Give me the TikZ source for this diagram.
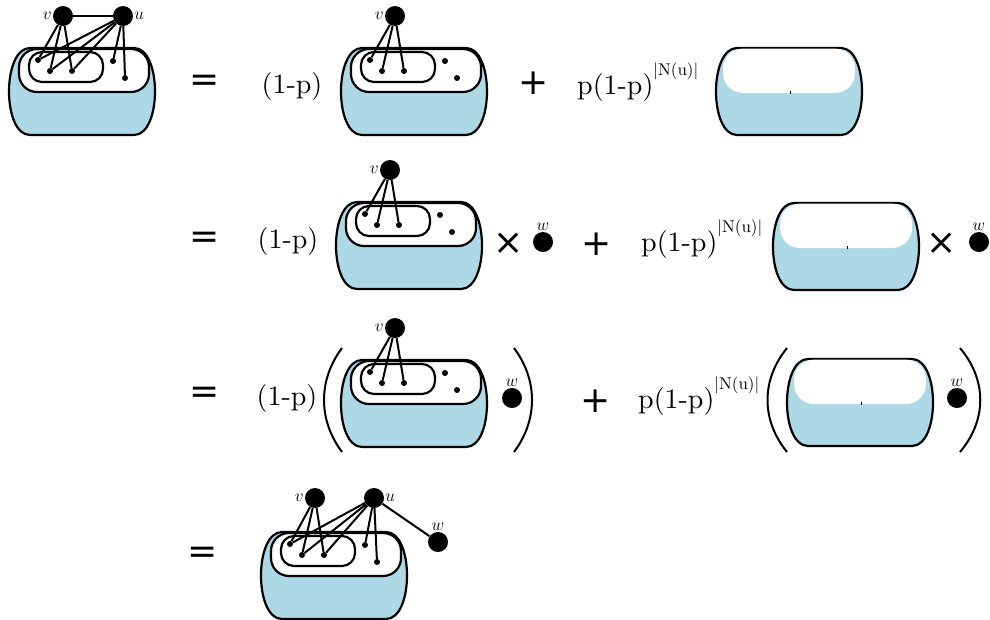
\documentclass[tikz,border=0pt]{standalone}
\usepackage{amsmath,amssymb}
\usepackage{fontspec}
\newfontfamily\dejavu{DejaVu Sans}
\newfontfamily\termfont{lmroman10-regular.otf}
\definecolor{blobblue}{RGB}{173,216,230}

\tikzset{
  blobline/.style={line width=2.2pt},
  edge/.style={line width=2pt},
  bigdot/.style={circle,fill=black,inner sep=0pt,minimum size=20pt},
  smalldot/.style={circle,fill=black,inner sep=0pt,minimum size=6pt},
  term/.style={font=\termfont\fontsize{28}{28}\selectfont,inner sep=0pt},
  op/.style={font=\dejavu\fontsize{36}{36}\selectfont,inner sep=0pt},
  lbl/.style={font=\fontsize{18}{18}\selectfont,inner sep=1pt},
  paren/.style={line width=2pt},
  % full blob: outer set, middle set, inner set with five points
  pics/blob/.style={code={
    \draw[blobline,fill=blobblue] (22,0) -- (126,0) .. controls (154,0) and (154,87) .. (126,87)
      -- (22,87) .. controls (-6,87) and (-6,0) .. (22,0) -- cycle;
    \draw[blobline,fill=white,rounded corners=18pt] (11,1) rectangle (141,44);
    \draw[blobline,fill=white,rounded corners=13pt] (21,4) rectangle (95,34);
    \node[smalldot] (-a) at (30,12) {};
    \node[smalldot] (-b) at (42,23) {};
    \node[smalldot] (-c) at (64,23) {};
    \node[smalldot] (-d) at (105,13) {};
    \node[smalldot] (-e) at (117,30) {};
  }},
  % empty blob
  pics/emptyblob/.style={code={
    \draw[blobline,fill=blobblue] (22,0) -- (126,0) .. controls (154,0) and (154,87) .. (126,87)
      -- (22,87) .. controls (-6,87) and (-6,0) .. (22,0) -- cycle;
    \fill[white,rounded corners=20pt] (8,0.6) rectangle (140,45);
    \draw[line width=0.4pt] (75,43) -- (75,45.5);
  }},
}

\newcommand{\nbhd}{\raisebox{19pt}{\termfont\fontsize{17}{17}\selectfont |N(u)|}}

\begin{document}
\begin{tikzpicture}[x=1pt,y=-1pt]
  \useasboundingbox (0,0) rectangle (990,619);

  % row 1
  \pic (b1) at (8,48) {blob};
  \node[bigdot,label={[lbl]left:$v$}] (v1) at (63,16) {};
  \node[bigdot,label={[lbl]right:$u$}] (u1) at (123,16) {};
  \draw[edge] (v1) -- (u1);
  \foreach \p in {a,b,c} \draw[edge] (v1) -- (b1-\p);
  \foreach \p in {a,b,c,d,e} \draw[edge] (u1) -- (b1-\p);

  \node[op] (eq1) at (205,83) {=};
  \node[term,anchor=base] (c1) at (292,93) {(1-p)};
  \pic (b2) at (340,48) {blob};
  \node[bigdot,label={[lbl]left:$v$}] (v2) at (395,16) {};
  \foreach \p in {a,b,c} \draw[edge] (v2) -- (b2-\p);
  \node[op] (pl1) at (534,83) {+};
  \node[term,anchor=base west] (t1) at (577,94) {p(1-p)\nbhd};
  \pic (b3) at (715,48) {emptyblob};

  % row 2
  \node[op] (eq2) at (205,240) {=};
  \node[term,anchor=base] (c2) at (288,248) {(1-p)};
  \pic (b4) at (335,202) {blob};
  \node[bigdot,label={[lbl]left:$v$}] (v4) at (390,170) {};
  \foreach \p in {a,b,c} \draw[edge] (v4) -- (b4-\p);
  \node[op] (x1) at (509,244) {×};
  \node[bigdot,label={[lbl]above:$w$}] (w2) at (543,242) {};
  \node[op] (pl2) at (597,244) {+};
  \node[term,anchor=base west] (t2) at (641,251) {p(1-p)\nbhd};
  \pic (b5) at (772,203) {emptyblob};
  \node[op] (x2) at (942,244) {×};
  \node[bigdot,label={[lbl]above:$w$}] (w5) at (979,242) {};

  % row 3
  \node[op] (eq3) at (205,395) {=};
  \node[term,anchor=base] (c3) at (287,405) {(1-p)};
  \draw[paren] (342,348) .. controls (318,380) and (318,420) .. (342,452);
  \pic (b6) at (340,360) {blob};
  \node[bigdot,label={[lbl]left:$v$}] (v6) at (395,328) {};
  \foreach \p in {a,b,c} \draw[edge] (v6) -- (b6-\p);
  \node[bigdot,label={[lbl]above:$w$}] (w6) at (512,398) {};
  \draw[paren] (514,348) .. controls (538,380) and (538,420) .. (514,452);
  \node[op] (pl3) at (596,401) {+};
  \node[term,anchor=base west] (t3) at (638,408) {p(1-p)\nbhd};
  \draw[paren] (787,348) .. controls (761,380) and (761,420) .. (787,452);
  \pic (b7) at (786,359) {emptyblob};
  \node[bigdot,label={[lbl]above:$w$}] (w7) at (957,398) {};
  \draw[paren] (960,348) .. controls (987,380) and (987,420) .. (960,452);

  % row 4
  \node[op] (eq4) at (203,555) {=};
  \pic (b8) at (260,532) {blob};
  \node[bigdot,label={[lbl]left:$v$}] (v8) at (315,498) {};
  \node[bigdot,label={[lbl]right:$u$}] (u8) at (374,498) {};
  \node[bigdot,label={[lbl]above:$w$}] (w8) at (438,542) {};
  \foreach \p in {a,b,c} \draw[edge] (v8) -- (b8-\p);
  \foreach \p in {a,b,c,d,e} \draw[edge] (u8) -- (b8-\p);
  \draw[edge] (u8) -- (w8);
\end{tikzpicture}
\end{document}
